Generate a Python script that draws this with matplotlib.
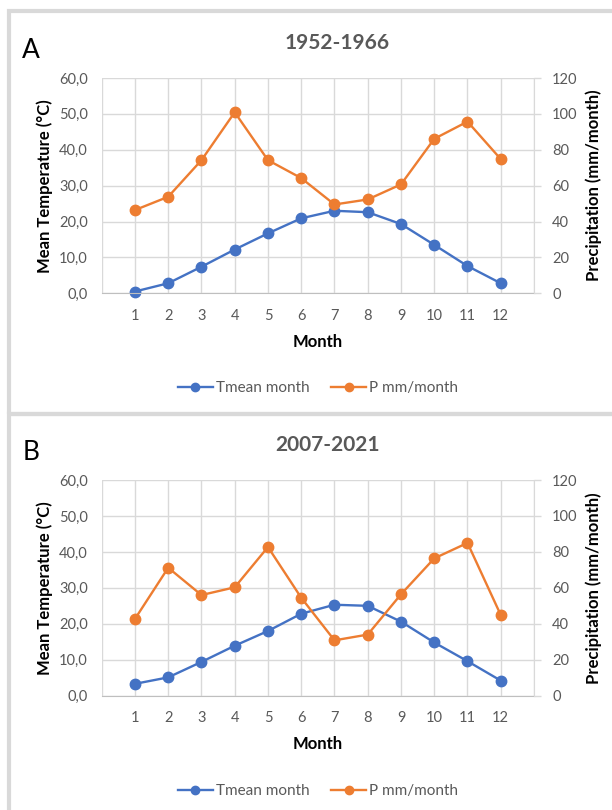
import numpy as np
import matplotlib
matplotlib.use("Agg")
import matplotlib.pyplot as plt
from matplotlib.patches import Rectangle
from matplotlib.ticker import FuncFormatter

plt.rcParams['font.family'] = ['Lato', 'DejaVu Sans']

# DATA
months = list(range(1, 13))
month_labels = [str(m) for m in months]

temp_a = [0.5, 2.8, 7.4, 12.2, 16.7, 20.9, 23.0, 22.6, 19.3, 13.5, 7.6, 2.8]
prec_a = [46.4, 53.8, 74.2, 100.9, 74.2, 64.2, 49.5, 52.3, 60.7, 86.1, 95.7, 74.8]

temp_b = [3.3, 5.1, 9.4, 13.9, 18.0, 22.8, 25.3, 25.0, 20.6, 14.8, 9.6, 4.2]
prec_b = [42.7, 71.2, 56.0, 60.3, 82.7, 54.5, 30.8, 34.0, 56.4, 76.4, 85.0, 44.9]

temp_ticks = [0, 10, 20, 30, 40, 50, 60]
prec_ticks = [0, 20, 40, 60, 80, 100, 120]

BLUE = '#4472C4'
ORANGE = '#ED7D31'
GRID = '#d9d9d9'
TXT = '#595959'

W, H = 612, 810
fig = plt.figure(figsize=(W / 100, H / 100), dpi=100)


def fx(px):
    return px / W


def fy(py):
    return 1 - py / H


# panel frames
for top, bottom in [(11.5, 414), (414, 900)]:
    fig.patches.append(Rectangle((fx(9), fy(bottom)), fx(800), (bottom - top) / H,
                                 transform=fig.transFigure, fill=False,
                                 edgecolor=GRID, linewidth=3, zorder=0))


def draw_panel(letter, title, temp, prec, top_px, bot_px, title_x, offs):
    ax = fig.add_axes([fx(101.7), fy(bot_px), fx(534 - 101.7), (bot_px - top_px) / H])
    ax.set_xlim(0, 13)
    ax.set_ylim(0, 60)
    ax.set_xticks(range(14))
    ax.set_xticklabels([''] + month_labels + [''])
    ax.set_yticks(temp_ticks)
    ax.yaxis.set_major_formatter(FuncFormatter(lambda v, p: f"{v:.1f}".replace('.', ',')))
    ax.grid(True, color=GRID, linewidth=1)
    ax.set_axisbelow(True)
    for s in ['top', 'left', 'right']:
        ax.spines[s].set_visible(False)
    ax.spines['bottom'].set_color('#bfbfbf')
    ax.tick_params(axis='x', length=0, pad=11, labelsize=10.5, labelcolor=TXT)
    ax.tick_params(axis='y', length=0, pad=10, labelsize=10.5, labelcolor=TXT)

    l1, = ax.plot(months, temp, color=BLUE, lw=1.7, marker='o', ms=7.5,
                  label='Tmean month', clip_on=False)
    ax.set_xlabel('Month', fontsize=12, fontweight='bold', labelpad=8)
    ax.set_ylabel('Mean Temperature (°C)', fontsize=12, fontweight='bold', labelpad=4.5)

    ax2 = ax.twinx()
    ax2.set_ylim(0, 120)
    ax2.set_yticks(prec_ticks)
    for s in ['top', 'left', 'bottom']:
        ax2.spines[s].set_visible(False)
    ax2.spines['right'].set_color(GRID)
    ax2.tick_params(axis='y', length=5, width=1, color=GRID, pad=8,
                    labelsize=10.5, labelcolor=TXT)
    l2, = ax2.plot(months, prec, color=ORANGE, lw=1.7, marker='o', ms=7.5,
                   label='P mm/month', clip_on=False)
    ax2.set_ylabel('Precipitation (mm/month)', fontsize=12, fontweight='bold', labelpad=5.5)

    fig.text(fx(31), fy(top_px - 28), letter, fontsize=19, ha='center', va='center')
    fig.text(fx(title_x), fy(top_px - 35), title, fontsize=15, fontweight='bold',
             color=TXT, ha='center', va='center')
    fig.legend(handles=[l1, l2], loc='center', bbox_to_anchor=(fx(318), fy(offs)),
               ncol=2, frameon=False, fontsize=11, labelcolor=TXT,
               handlelength=2.3, handletextpad=0.2, columnspacing=1.4, markerscale=0.8)


draw_panel('A', '1952-1966', temp_a, prec_a, 78, 293.3, 337, 388)
draw_panel('B', '2007-2021', temp_b, prec_b, 480, 695.7, 328, 791)

fig.savefig('out.png', dpi=100)
